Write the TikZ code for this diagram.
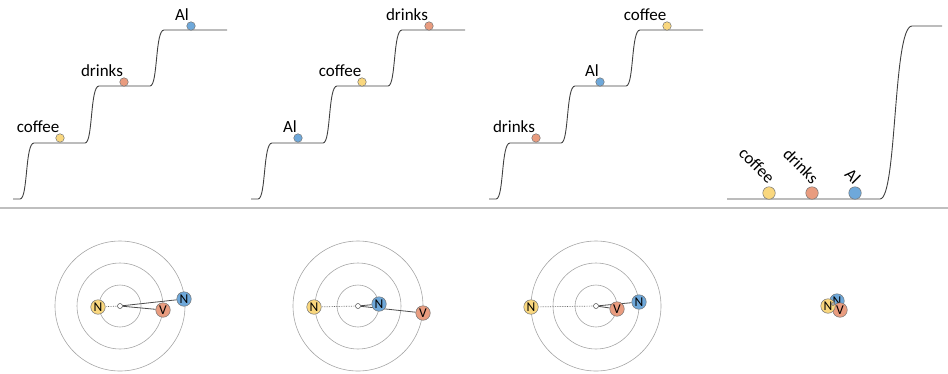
\documentclass[tikz,border=0pt]{standalone}
\usepackage{fontspec}
\setmainfont{Carlito}
\usetikzlibrary{backgrounds}
\begin{document}
\begin{tikzpicture}[x=1pt,y=-1pt,
  stairline/.style={draw=black!75, line width=0.9pt},
  ring/.style={draw=black!35, line width=0.6pt},
  sepline/.style={draw=black!25, line width=1.6pt},
  ballbase/.style={circle, draw=black!55, line width=0.5pt, inner sep=0pt},
  smallball/.style={ballbase, minimum size=8.5pt},
  bigball/.style={ballbase, minimum size=12.5pt},
  tokball/.style={ballbase, minimum size=14.5pt, font=\fontsize{13.5}{13.5}\selectfont},
  yel/.style={fill=yelc}, ora/.style={fill=orac}, blu/.style={fill=bluc},
  lab/.style={font=\fontsize{17}{20}\selectfont, inner sep=0pt, anchor=base},
  rlab/.style={font=\fontsize{17}{20}\selectfont, inner sep=0pt, rotate=-45},
  hub/.style={circle, draw=black!70, fill=white, line width=0.5pt, minimum size=5pt, inner sep=0pt},
  link/.style={draw=black!70, line width=0.8pt},
  dlink/.style={draw=black!60, line width=0.7pt, densely dotted}
]
\definecolor{yelc}{HTML}{F9D77E}
\definecolor{orac}{HTML}{E99C7F}
\definecolor{bluc}{HTML}{6EA8DA}
\useasboundingbox (0,0) rectangle (948,373);

% separator
\draw[sepline] (0,208) -- (948,208);

% staircases 1-3
\foreach \dx in {0,238,476}{
  \draw[stairline] (13+\dx,199) -- (20+\dx,199) .. controls (28+\dx,199) and (25+\dx,143) .. (34+\dx,143)
    -- (85+\dx,143) .. controls (93+\dx,143) and (90+\dx,86) .. (99+\dx,86)
    -- (150+\dx,86) .. controls (158+\dx,86) and (155+\dx,30) .. (164+\dx,30) -- (227+\dx,30);
}
% staircase 4
\draw[stairline] (727,199) -- (880,199) .. controls (897,199) and (893,26) .. (912,26) -- (942,26);

% panel 1 top
\node[smallball,yel] (b1c) at (60,138) {};
\node[smallball,ora] (b1d) at (124,82) {};
\node[smallball,blu] (b1a) at (191,26) {};
\node[lab] (l1c) at (38,132) {coffee};
\node[lab] (l1d) at (102,76) {drinks};
\node[lab] (l1a) at (182,20) {Al};

% panel 2 top
\node[smallball,blu] (b2a) at (298,138) {};
\node[smallball,yel] (b2c) at (362,82) {};
\node[smallball,ora] (b2d) at (429,26) {};
\node[lab] (l2a) at (290,132) {Al};
\node[lab] (l2c) at (340,76) {coffee};
\node[lab] (l2d) at (407,20) {drinks};

% panel 3 top
\node[smallball,ora] (b3d) at (536,138) {};
\node[smallball,blu] (b3a) at (600,82) {};
\node[smallball,yel] (b3c) at (667,26) {};
\node[lab] (l3d) at (514,132) {drinks};
\node[lab] (l3a) at (592,76) {Al};
\node[lab] (l3c) at (645,20) {coffee};

% panel 4 top
\node[bigball,yel] (b4c) at (769,193) {};
\node[bigball,ora] (b4d) at (812,193) {};
\node[bigball,blu] (b4a) at (855,193) {};
\node[rlab] (l4c) at (757,165) {coffee};
\node[rlab] (l4d) at (801,166) {drinks};
\node[rlab] (l4a) at (853,176) {Al};

% bottom rings
\begin{scope}[on background layer]
\foreach \cx in {120,358,596}{
  \draw[ring] (\cx,306) circle (21);
  \draw[ring] (\cx,306) circle (43);
  \draw[ring] (\cx,306) circle (65);
}
\end{scope}

% bottom panel 1
\node[hub] (h1) at (120,306) {};
\node[tokball,yel] (y1) at (98,307) {N};
\node[tokball,ora] (v1) at (163,310) {V};
\node[tokball,blu] (n1) at (184,299) {N};

% bottom panel 2
\node[hub] (h2) at (358,306) {};
\node[tokball,yel] (y2) at (314,307) {N};
\node[tokball,blu] (n2) at (379,304) {N};
\node[tokball,ora] (v2) at (423,313) {V};

% bottom panel 3
\node[hub] (h3) at (596,306) {};
\node[tokball,yel] (y3) at (531,307) {N};
\node[tokball,ora] (v3) at (617,309) {V};
\node[tokball,blu] (n3) at (639,302) {N};

% bottom panel 4
\node[tokball,blu] (n4) at (837,301) {N};
\node[tokball,ora] (v4) at (840,310) {V};
\node[tokball,yel] (y4) at (828,306) {N};
\node[hub, minimum size=3pt] (h4) at (833,304) {};

% links behind the tokens
\begin{scope}[on background layer]
\draw[dlink] (h1) -- (y1);
\draw[link] (h1) -- (v1);
\draw[link] (h1) -- (n1);
\draw[dlink] (h2) -- (y2);
\draw[link] (h2) -- (n2);
\draw[link] (h2) -- (v2);
\draw[dlink] (h3) -- (y3);
\draw[link] (h3) -- (v3);
\draw[link] (h3) -- (n3);
\end{scope}
\end{tikzpicture}
\end{document}
